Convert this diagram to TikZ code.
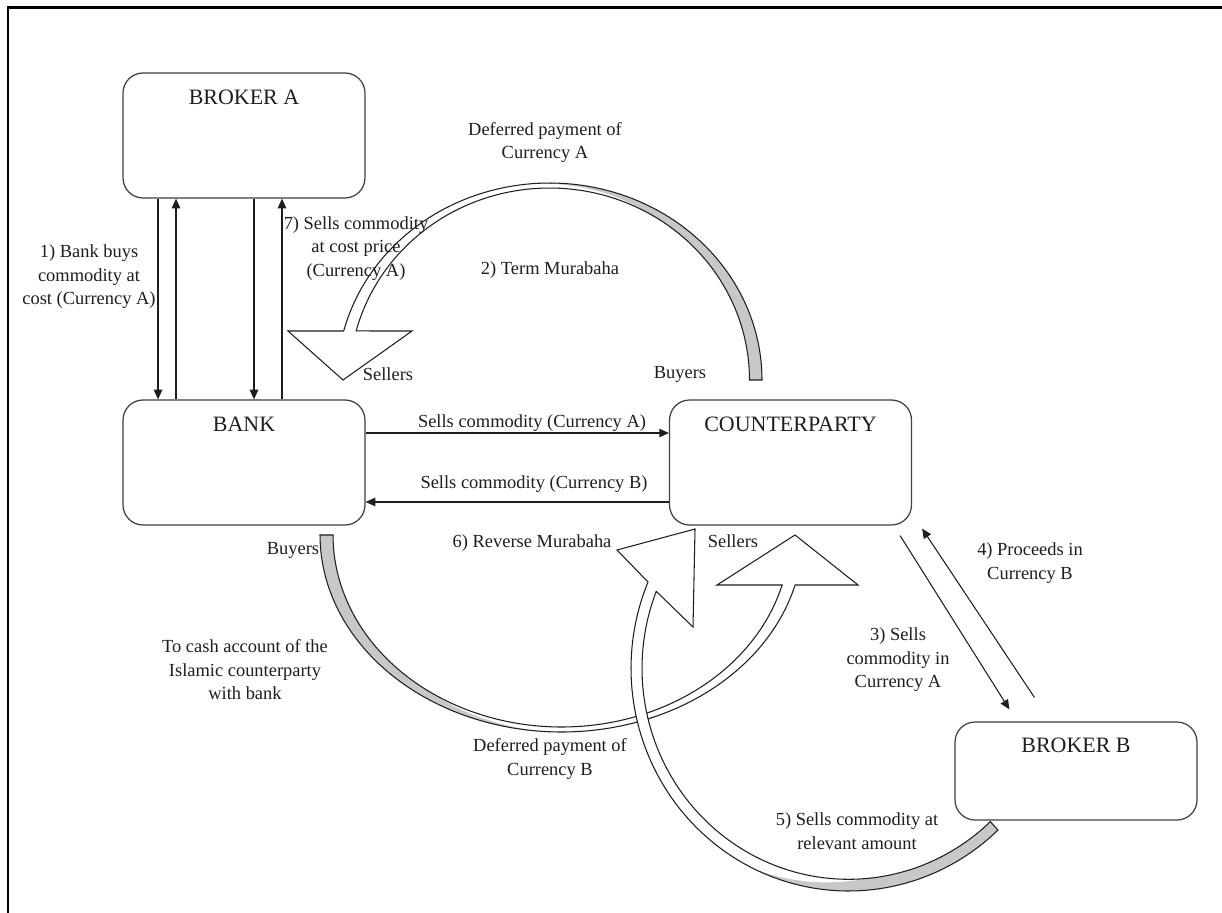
\documentclass[tikz,border=0pt]{standalone}
\usepackage{fontspec}
\setmainfont{Liberation Serif}
\usetikzlibrary{arrows.meta}
\definecolor{band}{RGB}{200,200,200}
\definecolor{ink}{RGB}{30,30,30}
\begin{document}
\begin{tikzpicture}[x=0.02cm, y=-0.02cm,
  box/.style={draw=ink!85, line width=0.7pt, rounded corners=0.4cm,
    minimum width=4.84cm, minimum height=2.5cm, inner sep=0pt},
  title/.style={font=\fontsize{12.5}{15}\selectfont, anchor=base,
    yshift=-0.64cm, inner sep=0pt, text=ink},
  txt/.style={font=\fontsize{10.5}{13.4}\selectfont, align=center,
    inner sep=0pt, text=ink},
  arr/.style={draw=ink, line width=0.6pt, -{Triangle[length=5.5pt,width=4.8pt]}},
  ribbon/.style={draw=ink, line width=0.6pt, line join=miter},
]
\useasboundingbox (0,0) rectangle (1222,912);
\fill[white] (0,0) rectangle (1222,912);
% outer frame (top and left edges)
\draw[line width=1.6pt, black] (8,930) -- (8,7.5) -- (1240,7.5);

% parties
\node[box, label={[title]north:BROKER A}] (brokerA) at (244,135.5) {};
\node[box, label={[title]north:BANK}] (bank) at (244,462.5) {};
\node[box, label={[title]north:COUNTERPARTY}] (cp) at (790.5,462.5) {};
\node[box, minimum height=1.96cm, label={[title, yshift=0.02cm]north:BROKER B}] (brokerB) at (1076,771) {};

% Broker A <-> Bank
\draw[arr] ([xshift=-1.72cm]brokerA.south) -- ([xshift=-1.72cm]bank.north);
\draw[arr] ([xshift=-1.36cm]bank.north) -- ([xshift=-1.36cm]brokerA.south);
\draw[arr] ([xshift=0.2cm]brokerA.south) -- ([xshift=0.2cm]bank.north);
\draw[arr] ([xshift=0.76cm]bank.north) -- ([xshift=0.76cm]brokerA.south);

% Bank <-> Counterparty
\draw[arr] ([yshift=0.59cm]bank.east) -- ([yshift=0.59cm]cp.west);
\draw[arr] ([yshift=-0.79cm]cp.west) -- ([yshift=-0.79cm]bank.east);

% Counterparty <-> Broker B
\draw[arr] ([xshift=-0.24cm,yshift=-0.2cm]cp.south east) -- ([xshift=1.1cm,yshift=0.24cm]brokerB.north west);
\draw[arr] ([xshift=1.6cm,yshift=0.48cm]brokerB.north west) -- ([xshift=0.2cm,yshift=-0.06cm]cp.south east);

% curved arrow: term murabaha (counterparty side up and over to bank side)
\fill[white] plot[domain=0:-165.6, samples=90, variable=\t] ({549.5+212.5*cos(\t)},{380+197*sin(\t)})
  -- (288,331) -- (343,380) -- (412,331)
  -- plot[domain=-165.2:0, samples=90, variable=\t] ({549.5+200*cos(\t)},{380+192*sin(\t)}) -- cycle;
\fill[band] plot[domain=0:-95, samples=60, variable=\t] ({549.5+212.5*cos(\t)},{380+197*sin(\t)})
  -- plot[domain=-95:0, samples=60, variable=\t]
     ({549.5+(212.5-12.5*min(1,(\t+95)/35))*cos(\t)},{380+(197-5*min(1,(\t+95)/35))*sin(\t)}) -- cycle;
\draw[ribbon] plot[domain=0:-165.6, samples=90, variable=\t] ({549.5+212.5*cos(\t)},{380+197*sin(\t)})
  -- (288,331) -- (343,380) -- (412,331)
  -- plot[domain=-165.2:0, samples=90, variable=\t] ({549.5+200*cos(\t)},{380+192*sin(\t)}) -- cycle;

% curved arrow: deferred payment of currency B (bank side down and round to counterparty)
\fill[white] plot[domain=180:14.7, samples=90, variable=\t] ({561.5+241.5*cos(\t)},{535+197*sin(\t)})
  -- (858,585) -- (795,535) -- (717,585)
  -- plot[domain=15.1:180, samples=90, variable=\t] ({561.5+228.5*cos(\t)},{535+192*sin(\t)}) -- cycle;
\fill[band] plot[domain=180:95, samples=60, variable=\t] ({561.5+241.5*cos(\t)},{535+197*sin(\t)})
  -- plot[domain=95:180, samples=60, variable=\t]
     ({561.5+(241.5-13*min(1,(\t-95)/30))*cos(\t)},{535+(197-5*min(1,(\t-95)/30))*sin(\t)}) -- cycle;
\draw[ribbon] plot[domain=180:14.7, samples=90, variable=\t] ({561.5+241.5*cos(\t)},{535+197*sin(\t)})
  -- (858,585) -- (795,535) -- (717,585)
  -- plot[domain=15.1:180, samples=90, variable=\t] ({561.5+228.5*cos(\t)},{535+192*sin(\t)}) -- cycle;

% curved arrow: broker B round to counterparty (reverse murabaha)
\fill[white] plot[domain=46.6:202.8, samples=90, variable=\t] ({848.5+217.5*cos(\t)},{668.3+222.7*sin(\t)})
  -- (617,550) -- (695,529) -- (693,627)
  -- plot[domain=201.4:46.6, samples=90, variable=\t] ({848.5+206.5*cos(\t)},{668.3+211*sin(\t)}) -- cycle;
\fill[band] plot[domain=46.6:115, samples=60, variable=\t] ({848.5+217.5*cos(\t)},{668.3+222.7*sin(\t)})
  -- plot[domain=115:46.6, samples=60, variable=\t]
     ({848.5+(217.5-11*min(1,(115-\t)/30))*cos(\t)},{668.3+(222.7-11.7*min(1,(115-\t)/30))*sin(\t)}) -- cycle;
\draw[ribbon] plot[domain=46.6:202.8, samples=90, variable=\t] ({848.5+217.5*cos(\t)},{668.3+222.7*sin(\t)})
  -- (617,550) -- (695,529) -- (693,627)
  -- plot[domain=201.4:46.6, samples=90, variable=\t] ({848.5+206.5*cos(\t)},{668.3+211*sin(\t)}) -- cycle;

% labels
\node[txt] (l1) at (89,277) {1) Bank buys\\commodity at\\cost (Currency A)};
\node[txt] (l7) at (356,248.5) {7) Sells commodity\\at cost price\\(Currency A)};
\node[txt] (ldefA) at (545,142.5) {Deferred payment of\\Currency A};
\node[txt] (l2) at (550,270) {2) Term Murabaha};
\node[txt] (sell1) at (388,374) {Sellers};
\node[txt] (buy1) at (680,374) {Buyers};
\node[txt] (sellA) at (532,423) {Sells commodity (Currency A)};
\node[txt] (sellB) at (534,484) {Sells commodity (Currency B)};
\node[txt] (buy2) at (293,550) {Buyers};
\node[txt] (l6) at (532,543) {6) Reverse Murabaha};
\node[txt] (sell2) at (733,541) {Sellers};
\node[txt] (l4) at (1030,563) {4) Proceeds in\\Currency B};
\node[txt] (l3) at (898,660) {3) Sells\\commodity in\\Currency A};
\node[txt] (lcash) at (245,670) {To cash account of the\\Islamic counterparty\\with bank};
\node[txt] (ldefB) at (550,759) {Deferred payment of\\Currency B};
\node[txt] (l5) at (857,831) {5) Sells commodity at\\relevant amount};
\end{tikzpicture}
\end{document}
